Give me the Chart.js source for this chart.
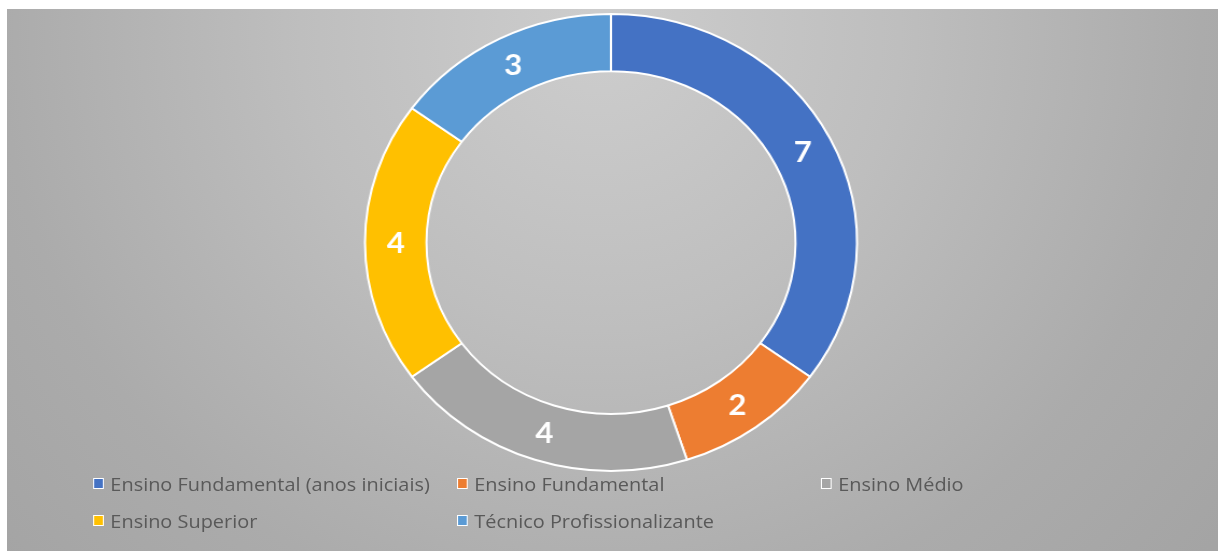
<!DOCTYPE html>
<html>
<head>
<meta charset="utf-8">
<script src="https://cdn.jsdelivr.net/npm/chart.js@4.4.1/dist/chart.umd.min.js"></script>
<style>
  html, body { margin: 0; padding: 0; background: #ffffff; }
  body { width: 1218px; height: 551px; position: relative; overflow: hidden; }
  #bg {
    position: absolute; left: 7px; top: 9px; width: 1211px; height: 542px;
    background: radial-gradient(circle 800px at 593px 21px, #cdcdcd 0px, #bebebe 300px, #ababab 600px, #a4a4a4 800px);
  }
  #stage {
    position: absolute; left: 7px; top: 9px; width: 1125px; height: 542px;
    transform: scaleX(1.0766); transform-origin: 0 0;
  }
  #chart { position: absolute; left: 0; top: 0; }
  #legend {
    position: absolute; left: 80px; top: 456px;
    display: grid; grid-template-columns: repeat(3, 338px); grid-auto-rows: 37px;
    font-family: "Open Sans", "Noto Sans", sans-serif; font-size: 18.5px; color: #595959;
  }
  .item { display: flex; align-items: center; white-space: nowrap; }
  .box {
    width: 8px; height: 9px; border: 1.5px solid #ffffff; margin-right: 6px; flex: none;
  }
</style>
</head>
<body>
<div id="bg"></div>
<div id="stage">
  <canvas id="chart" width="1125" height="542"></canvas>
  <div id="legend"></div>
</div>
<script>
// Schooling levels and the number of people at each level
const categories = [
  "Ensino Fundamental (anos iniciais)",
  "Ensino Fundamental",
  "Ensino Médio",
  "Ensino Superior",
  "Técnico Profissionalizante"
];
const counts = [7, 2, 4, 4, 3];
const sliceColors = ["#4472C4", "#ED7D31", "#A5A5A5", "#FFC000", "#5B9BD5"];

// Writes each slice's value in white at the middle of its ring segment
const sliceLabels = {
  id: "sliceLabels",
  afterDatasetsDraw(chart) {
    const ctx = chart.ctx;
    const meta = chart.getDatasetMeta(0);
    const values = chart.data.datasets[0].data;
    ctx.save();
    ctx.font = "bold 29px Lato, 'Open Sans', sans-serif";
    ctx.fillStyle = "#ffffff";
    ctx.textAlign = "center";
    ctx.textBaseline = "middle";
    meta.data.forEach((arc, i) => {
      const p = arc.tooltipPosition();
      ctx.fillText(String(values[i]), p.x, p.y + 1);
    });
    ctx.restore();
  }
};

new Chart(document.getElementById("chart"), {
  type: "doughnut",
  data: {
    labels: categories,
    datasets: [{
      data: counts,
      backgroundColor: sliceColors,
      borderColor: "#ffffff",
      borderWidth: 2
    }]
  },
  options: {
    responsive: false,
    animation: false,
    cutout: "75%",
    layout: { padding: { top: 4, bottom: 79, left: 0, right: 3 } },
    plugins: {
      legend: { display: false },
      tooltip: { enabled: false }
    }
  },
  plugins: [sliceLabels]
});

// Legend laid out in a three-column grid under the ring
const legend = document.getElementById("legend");
categories.forEach((name, i) => {
  const item = document.createElement("div");
  item.className = "item";
  const box = document.createElement("span");
  box.className = "box";
  box.style.background = sliceColors[i];
  const text = document.createElement("span");
  text.textContent = name;
  item.appendChild(box);
  item.appendChild(text);
  legend.appendChild(item);
});
</script>
</body>
</html>
